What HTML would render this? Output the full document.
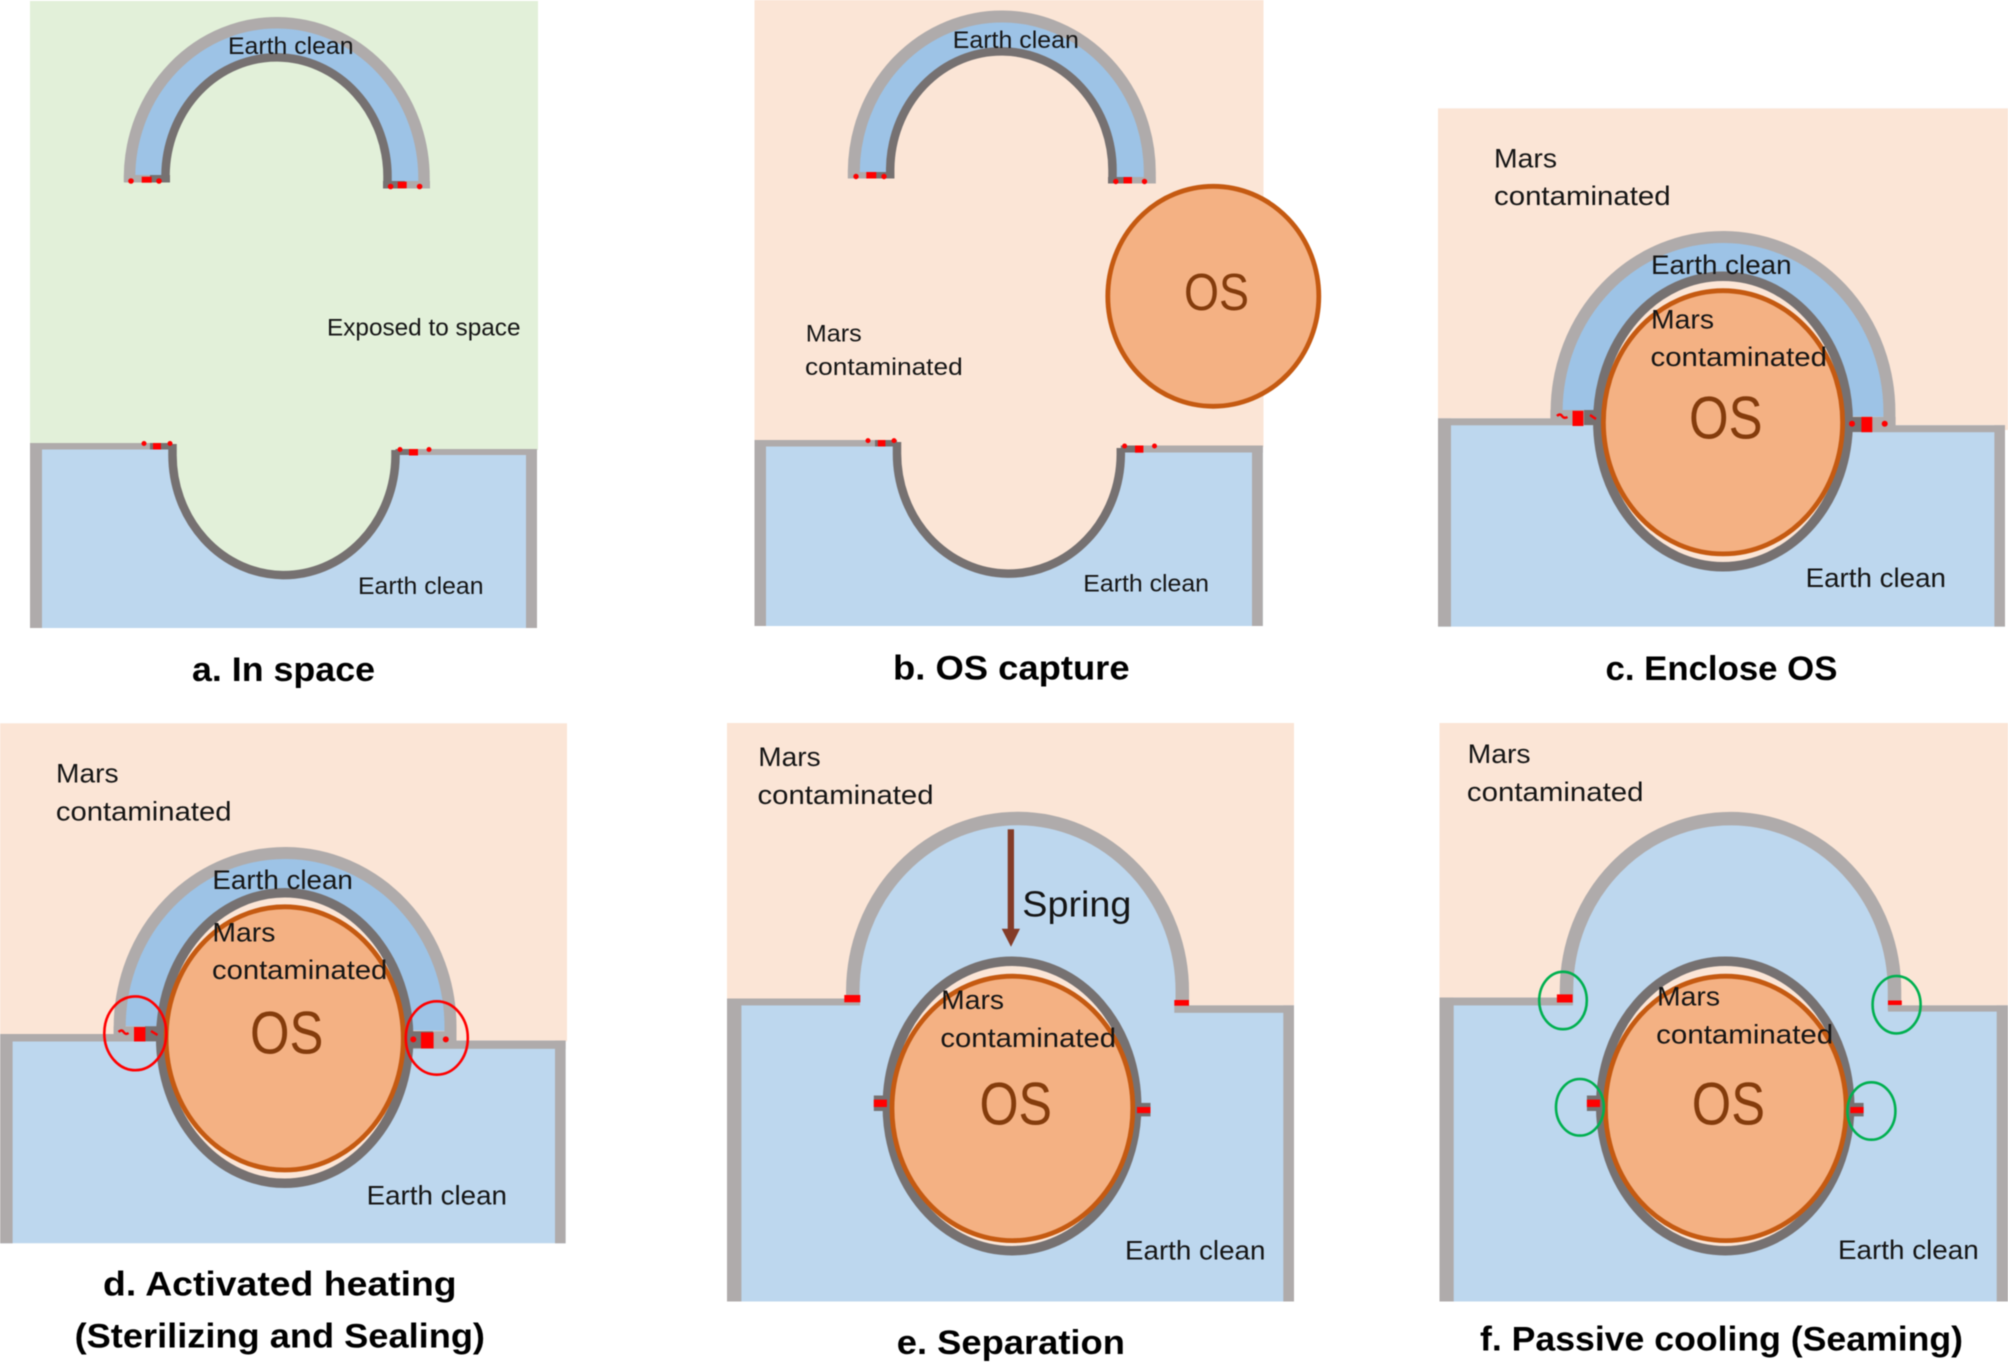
<!DOCTYPE html>
<html><head><meta charset="utf-8"><title>Sealing sequence</title>
<style>
html,body{margin:0;padding:0;background:#fff;width:2008px;height:1362px;overflow:hidden}
svg{display:block;filter:blur(.4px)}
text{font-family:"Liberation Sans",sans-serif;fill:#151515}
.s{font-size:24px}.m{font-size:27px}
.os{font-size:60px;fill:#843c0c}
.t{font-size:34px;font-weight:bold;fill:#000}
.g{fill:#afabab}.k{fill:#767171}.r{fill:#f00}.b{fill:#bdd7ee}.mb{fill:#9dc3e6}.p{fill:#fbe5d6}
.ga{fill:none;stroke:#afabab;stroke-width:12}
.da{fill:none;stroke:#767171;stroke-width:8.5}
.enc{fill:#fbe5d6;stroke:#767171;stroke-width:9.5}
.o{fill:#f4b183;stroke:#c55a11;stroke-width:4.8}
.rc{fill:none;stroke:#f00;stroke-width:2.6}
.gc{fill:none;stroke:#00b050;stroke-width:2.6}
.sq{fill:none;stroke:#f00;stroke-width:2.4}
</style></head><body>
<svg width="2008" height="1362" viewBox="0 0 2008 1362" xmlns="http://www.w3.org/2000/svg">
<rect width="2008" height="1362" fill="#fff"/>

<!-- a -->
<rect x="30" y="1" width="508" height="449" fill="#e2f0d9"/>
<path class="b" d="M30 443H172L396 449H537V628H30Z"/>
<rect class="g" x="30" y="443" width="12" height="185"/>
<rect class="g" x="526" y="449" width="11" height="179"/>
<rect class="g" x="30" y="443" width="145" height="6.5"/>
<rect class="g" x="392" y="449" width="145" height="6"/>
<rect class="k" x="150" y="443" width="25" height="6.5"/>
<rect class="k" x="392" y="449" width="26" height="6"/>
<path d="M172.5 438V453.5A111.4 120 0 0 0 395.5 456.5V438Z" fill="#e2f0d9"/>
<path class="da" d="M172.5 444V453.5A111.4 120 0 0 0 395.5 456.5V450"/>
<path class="mb" d="M129.5 178V176.5A147 155 0 0 1 424 179.5V184H387.5V178A110.9 119 0 0 0 165.5 175V178Z"/>
<rect class="g" x="124" y="175" width="46" height="7.5"/>
<rect class="g" x="383" y="181" width="47" height="7.5"/>
<rect class="k" x="150" y="175" width="20" height="7.5"/>
<rect class="k" x="383" y="181" width="22" height="7.5"/>
<path class="ga" style="stroke-width:11.5" d="M129.5 182V176.5A147 155 0 0 1 424 179.5V188"/>
<path class="da" d="M165.5 182V175A110.9 119 0 0 1 387.5 178V188"/>
<rect class="r" x="141.7" y="176.7" width="10" height="6"/><circle class="r" cx="131" cy="181" r="2.8"/><circle class="r" cx="159" cy="181" r="2.8"/>
<rect class="r" x="397.7" y="181.7" width="9" height="6.6"/><circle class="r" cx="390.6" cy="186.5" r="2.8"/><circle class="r" cx="419.6" cy="186.5" r="2.8"/>
<rect class="r" x="153" y="443" width="8" height="6.5"/><circle class="r" cx="144" cy="443.5" r="2.5"/><circle class="r" cx="170" cy="443.5" r="2.5"/>
<rect class="r" x="409" y="449" width="9" height="6.5"/><circle class="r" cx="400" cy="449.5" r="2.5"/><circle class="r" cx="429" cy="449.5" r="2.5"/>
<text class="s" x="228" y="54" textLength="125.5" lengthAdjust="spacingAndGlyphs">Earth clean</text>
<text class="s" x="327" y="335.7" textLength="193.5" lengthAdjust="spacingAndGlyphs">Exposed to space</text>
<text class="s" x="358" y="594" textLength="125.5" lengthAdjust="spacingAndGlyphs">Earth clean</text>
<text class="t" x="192" y="681" textLength="183" lengthAdjust="spacingAndGlyphs">a. In space</text>

<!-- b -->
<rect x="754.5" y="0" width="509" height="447" fill="#fbe5d6"/>
<path class="b" d="M754.5 440H897L1120 445.5H1262.8V626H754.5Z"/>
<rect class="g" x="754.5" y="440" width="11.5" height="186"/>
<rect class="g" x="1252" y="445.5" width="10.8" height="180.5"/>
<rect class="g" x="754.5" y="440" width="145.5" height="6.5"/>
<rect class="g" x="1117" y="445.5" width="145.8" height="7"/>
<rect class="k" x="875" y="440" width="25" height="6.5"/>
<rect class="k" x="1117" y="445.5" width="26" height="7"/>
<path class="p" d="M897 436V452A111.8 120 0 0 0 1120.8 455V436Z"/>
<path class="da" d="M897 442V452A111.8 120 0 0 0 1120.8 455V448"/>
<path class="mb" d="M853.8 172V171A147.9 156 0 0 1 1149.8 174V178H1112.5V172A111 119 0 0 0 890.2 169V172Z"/>
<rect class="g" x="848" y="172" width="46" height="6.5"/>
<rect class="g" x="1108" y="177" width="47.6" height="6.5"/>
<rect class="k" x="874" y="172" width="20" height="6.5"/>
<rect class="k" x="1108" y="177" width="20" height="6.5"/>
<path class="ga" d="M853.8 178.5V171A147.9 156 0 0 1 1149.8 174V183.5"/>
<path class="da" d="M890.2 178.5V169A111 119 0 0 1 1112.5 172V183.5"/>
<rect class="r" x="866.3" y="172" width="10" height="6.5"/><circle class="r" cx="856" cy="176.5" r="2.7"/><circle class="r" cx="884" cy="176.5" r="2.7"/>
<rect class="r" x="1123.5" y="177" width="8.5" height="6.5"/><circle class="r" cx="1115.8" cy="181.5" r="2.7"/><circle class="r" cx="1144.5" cy="181.5" r="2.7"/>
<rect class="r" x="877.8" y="440" width="7.6" height="6.5"/><circle class="r" cx="868" cy="440.6" r="2.5"/><circle class="r" cx="894" cy="440.6" r="2.5"/>
<rect class="r" x="1135" y="445.5" width="8.4" height="7.2"/><circle class="r" cx="1124.6" cy="446" r="2.5"/><circle class="r" cx="1154.5" cy="446" r="2.5"/>
<ellipse class="o" cx="1213.3" cy="296.3" rx="105.5" ry="110"/>
<text class="os" style="font-size:52px" x="1184" y="310" textLength="65" lengthAdjust="spacingAndGlyphs">OS</text>
<text class="s" x="952.8" y="48" textLength="126" lengthAdjust="spacingAndGlyphs">Earth clean</text>
<text class="s" x="805.8" y="341.5" textLength="56" lengthAdjust="spacingAndGlyphs">Mars</text>
<text class="s" x="805" y="375" textLength="157.7" lengthAdjust="spacingAndGlyphs">contaminated</text>
<text class="s" x="1083.3" y="591.5" textLength="125.7" lengthAdjust="spacingAndGlyphs">Earth clean</text>
<text class="t" x="893" y="679.5" textLength="236.6" lengthAdjust="spacingAndGlyphs">b. OS capture</text>

<!-- c -->
<path class="p" d="M1438 108.4H2008V430H1438Z"/>
<path class="b" d="M1438 418.4H1600L1850 425.3H2005V626.6H1438Z"/>
<rect class="g" x="1438" y="418.4" width="13" height="208.2"/>
<rect class="g" x="1994.4" y="425.3" width="10.6" height="201.3"/>
<rect class="g" x="1438" y="418.4" width="160" height="6.9"/>
<rect class="g" x="1850" y="425.3" width="155" height="6.9"/>
<path class="mb" d="M1556.6 411V410.5A166.3 175 0 0 1 1889.4 413.5V417Z"/>
<rect class="g" x="1550.4" y="410" width="45" height="15"/>
<rect class="g" x="1850" y="416.9" width="45.6" height="15"/>
<rect class="k" x="1584" y="410" width="12" height="15"/>
<rect class="k" x="1850" y="416.9" width="22" height="15"/>
<path class="ga" d="M1556.6 420V410.5A166.3 175 0 0 1 1889.4 413.5V425"/>
<ellipse class="enc" cx="1723" cy="421.5" rx="125.2" ry="145.2"/>
<ellipse class="o" cx="1723" cy="422.3" rx="119.6" ry="131.6"/>
<rect class="r" x="1572.5" y="410.8" width="10.9" height="15.2"/>
<path class="sq" d="M1557 416q3-3 5 0t5.5 1"/><path class="sq" d="M1590 415l6 4"/>
<rect class="r" x="1861.4" y="416.9" width="10.9" height="15.3"/><circle class="r" cx="1852" cy="423.8" r="3"/><circle class="r" cx="1884.7" cy="423.8" r="3"/>
<text class="m" x="1494" y="167.7" textLength="63" lengthAdjust="spacingAndGlyphs">Mars</text>
<text class="m" x="1494" y="204.9" textLength="176.6" lengthAdjust="spacingAndGlyphs">contaminated</text>
<text class="m" x="1651" y="274" textLength="140.6" lengthAdjust="spacingAndGlyphs">Earth clean</text>
<text class="m" x="1651" y="328.5" textLength="63" lengthAdjust="spacingAndGlyphs">Mars</text>
<text class="m" x="1650.5" y="366" textLength="176.5" lengthAdjust="spacingAndGlyphs">contaminated</text>
<text class="os" x="1689" y="438.7" textLength="73.5" lengthAdjust="spacingAndGlyphs">OS</text>
<text class="m" x="1805.6" y="586.8" textLength="140.4" lengthAdjust="spacingAndGlyphs">Earth clean</text>
<text class="t" x="1605.5" y="679.8" textLength="231.9" lengthAdjust="spacingAndGlyphs">c. Enclose OS</text>

<!-- d -->
<rect x="0" y="723.3" width="567" height="318" fill="#fbe5d6"/>
<path class="b" d="M0 1034H160L410 1040.6H565.6V1243.3H0Z"/>
<rect class="g" x="0" y="1034" width="12.6" height="209.3"/>
<rect class="g" x="555" y="1040.6" width="10.6" height="202.7"/>
<rect class="g" x="0" y="1034" width="158" height="7.5"/>
<rect class="g" x="410" y="1040.6" width="155.6" height="8.2"/>
<path class="mb" d="M119.7 1026V1025.5A165.3 174 0 0 1 450.5 1028.5V1031Z"/>
<rect class="g" x="113.7" y="1026.3" width="45" height="15"/>
<rect class="g" x="411" y="1031.2" width="45.5" height="17"/>
<rect class="k" x="145" y="1026.3" width="13" height="15"/>
<rect class="k" x="411" y="1031.2" width="22" height="17"/>
<path class="ga" d="M119.7 1034V1025.5A165.3 174 0 0 1 450.5 1028.5V1040"/>
<ellipse class="enc" cx="284.7" cy="1038" rx="124" ry="145.3"/>
<ellipse class="o" cx="284.7" cy="1038.4" rx="118.6" ry="131.6"/>
<rect class="r" x="134" y="1027" width="11.4" height="14.5"/>
<path class="sq" d="M118.6 1032q3-3 5 0t5 1"/><path class="sq" d="M151 1031l6.5 4"/>
<rect class="r" x="421" y="1032.4" width="12.6" height="16"/><circle class="r" cx="413.3" cy="1039.4" r="3"/><circle class="r" cx="445.8" cy="1039.4" r="3"/>
<ellipse class="rc" cx="135.3" cy="1033.3" rx="31" ry="36.9"/>
<ellipse class="rc" cx="436.8" cy="1038" rx="31" ry="36.7"/>
<text class="m" x="56" y="782.7" textLength="62.6" lengthAdjust="spacingAndGlyphs">Mars</text>
<text class="m" x="55.9" y="820.3" textLength="175.6" lengthAdjust="spacingAndGlyphs">contaminated</text>
<text class="m" x="212.4" y="889" textLength="140.5" lengthAdjust="spacingAndGlyphs">Earth clean</text>
<text class="m" x="212.4" y="941.5" textLength="63" lengthAdjust="spacingAndGlyphs">Mars</text>
<text class="m" x="212" y="978.8" textLength="175.3" lengthAdjust="spacingAndGlyphs">contaminated</text>
<text class="os" x="250" y="1053.7" textLength="73.4" lengthAdjust="spacingAndGlyphs">OS</text>
<text class="m" x="366.6" y="1204.4" textLength="140.4" lengthAdjust="spacingAndGlyphs">Earth clean</text>
<text class="t" x="103" y="1295.3" textLength="353.6" lengthAdjust="spacingAndGlyphs">d. Activated heating</text>
<text class="t" x="74.6" y="1347.7" textLength="410.4" lengthAdjust="spacingAndGlyphs">(Sterilizing and Sealing)</text>

<!-- e -->
<rect x="727" y="723" width="567" height="285" fill="#fbe5d6"/>
<path class="b" d="M727 998.5H860L1174 1005.4H1294V1301.5H727Z"/>
<path class="b" d="M852.8 1003V990A164.7 173 0 0 1 1182.3 993V1008Z"/>
<rect class="g" x="727" y="998.5" width="14.4" height="303"/>
<rect class="g" x="1283.3" y="1005.4" width="10.7" height="296.1"/>
<rect class="g" x="727" y="998.5" width="133" height="6.9"/>
<rect class="g" x="1174.3" y="1005.4" width="119.7" height="7.4"/>
<path class="ga" style="stroke-width:13.5" d="M852.8 1002V990A164.7 173 0 0 1 1182.3 993V1008"/>
<rect class="r" x="844.3" y="995" width="16" height="7.3"/>
<rect class="r" x="1174.3" y="1000" width="14.7" height="5.7"/>
<rect fill="#843c28" x="1007.7" y="829.3" width="6.3" height="100"/>
<path fill="#843c28" d="M1001.7 928.7H1020L1011 946.7Z"/>
<rect class="k" x="873.8" y="1095.5" width="13.1" height="15.5"/>
<rect class="k" x="1137" y="1102.9" width="13.5" height="13.5"/>
<ellipse class="enc" cx="1012" cy="1106" rx="124.7" ry="144.7"/>
<ellipse class="o" cx="1012.4" cy="1108.4" rx="120.4" ry="132.2"/>
<rect class="r" x="873.8" y="1099.6" width="13.1" height="7.4"/>
<rect class="r" x="1137" y="1107" width="13.5" height="6.1"/>
<text class="m" x="758.3" y="765.9" textLength="62.3" lengthAdjust="spacingAndGlyphs">Mars</text>
<text class="m" x="757.5" y="804" textLength="176" lengthAdjust="spacingAndGlyphs">contaminated</text>
<text style="font-size:36px" x="1022.3" y="916.6" textLength="109.1" lengthAdjust="spacingAndGlyphs">Spring</text>
<text class="m" x="941.2" y="1009" textLength="62.8" lengthAdjust="spacingAndGlyphs">Mars</text>
<text class="m" x="940.4" y="1046.8" textLength="175.6" lengthAdjust="spacingAndGlyphs">contaminated</text>
<text class="os" x="979.5" y="1124.6" textLength="72.5" lengthAdjust="spacingAndGlyphs">OS</text>
<text class="m" x="1125" y="1259.7" textLength="140.4" lengthAdjust="spacingAndGlyphs">Earth clean</text>
<text class="t" x="896.8" y="1353.9" textLength="228.1" lengthAdjust="spacingAndGlyphs">e. Separation</text>

<!-- f -->
<rect x="1439.5" y="723" width="568.5" height="285" fill="#fbe5d6"/>
<path class="b" d="M1439.5 997.6H1573L1888 1005.4H2008V1301.5H1439.5Z"/>
<path class="b" d="M1566.5 1003V989A164 172 0 0 1 1894.5 992V1010Z"/>
<rect class="g" x="1439.5" y="997.6" width="14.2" height="303.9"/>
<rect class="g" x="1996.7" y="1005.4" width="11.3" height="296.1"/>
<rect class="g" x="1439.5" y="997.6" width="133.5" height="7.8"/>
<rect class="g" x="1888" y="1005.4" width="120" height="6.2"/>
<path class="ga" style="stroke-width:13.5" d="M1566.5 1003V989A164 172 0 0 1 1894.5 992V1010"/>
<rect class="r" x="1556.9" y="994.4" width="15.7" height="8.1"/>
<rect class="r" x="1888" y="1000.5" width="13.8" height="4.5"/>
<rect class="k" x="1586.9" y="1095.5" width="13.1" height="15.5"/>
<rect class="k" x="1850.4" y="1102.9" width="13.2" height="13.5"/>
<ellipse class="enc" cx="1725.2" cy="1106" rx="124.5" ry="144.7"/>
<ellipse class="o" cx="1725.8" cy="1108.4" rx="120.4" ry="132.2"/>
<rect class="r" x="1586.9" y="1099.6" width="13.1" height="7.4"/>
<rect class="r" x="1850.4" y="1107" width="13.2" height="6.1"/>
<ellipse class="gc" cx="1563" cy="1000.5" rx="23.8" ry="28.7"/>
<ellipse class="gc" cx="1896.6" cy="1004.7" rx="24" ry="28.7"/>
<ellipse class="gc" cx="1579.9" cy="1107.3" rx="23.9" ry="28.3"/>
<ellipse class="gc" cx="1871.4" cy="1111" rx="24" ry="28.7"/>
<text class="m" x="1467.6" y="763" textLength="63" lengthAdjust="spacingAndGlyphs">Mars</text>
<text class="m" x="1466.9" y="801" textLength="176.6" lengthAdjust="spacingAndGlyphs">contaminated</text>
<text class="m" x="1657" y="1005.4" textLength="63" lengthAdjust="spacingAndGlyphs">Mars</text>
<text class="m" x="1656.2" y="1043.5" textLength="177" lengthAdjust="spacingAndGlyphs">contaminated</text>
<text class="os" x="1691.8" y="1124.6" textLength="73.2" lengthAdjust="spacingAndGlyphs">OS</text>
<text class="m" x="1838" y="1259" textLength="140.7" lengthAdjust="spacingAndGlyphs">Earth clean</text>
<text class="t" x="1480" y="1350.6" textLength="483" lengthAdjust="spacingAndGlyphs">f. Passive cooling (Seaming)</text>
</svg>
</body></html>
